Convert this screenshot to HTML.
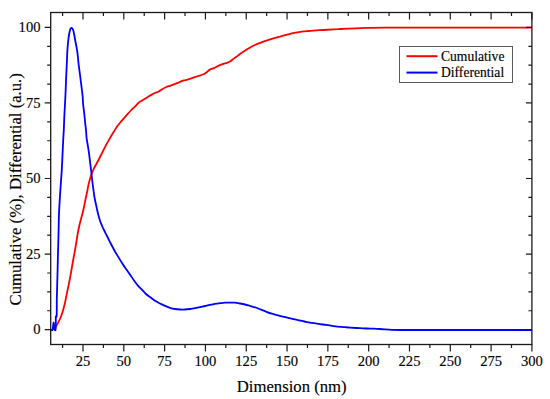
<!DOCTYPE html>
<html><head><meta charset="utf-8"><style>
html,body{margin:0;padding:0;background:#fff;width:550px;height:399px;overflow:hidden}
svg{display:block}
text{stroke:#000;stroke-width:0.15px;paint-order:stroke}
</style></head><body>
<svg width="550" height="399" viewBox="0 0 550 399"><path d="M54.60,329.40 C54.75,329.10 55.23,328.17 55.50,327.60 C55.77,327.03 55.78,326.78 56.20,326.00 C56.62,325.22 57.30,324.23 58.00,322.90 C58.70,321.57 59.67,319.75 60.40,318.00 C61.13,316.25 61.80,314.27 62.40,312.40 C63.00,310.53 63.55,308.45 64.00,306.80 C64.45,305.15 64.68,304.45 65.10,302.50 C65.52,300.55 65.92,298.00 66.50,295.10 C67.08,292.20 67.92,288.45 68.60,285.10 C69.28,281.75 70.07,277.85 70.60,275.00 C71.13,272.15 71.43,270.17 71.80,268.00 C72.17,265.83 72.43,264.08 72.80,262.00 C73.17,259.92 73.57,257.83 74.00,255.50 C74.43,253.17 74.90,250.92 75.40,248.00 C75.90,245.08 76.52,240.92 77.00,238.00 C77.48,235.08 77.87,232.75 78.30,230.50 C78.73,228.25 79.15,226.42 79.60,224.50 C80.05,222.58 80.50,220.92 81.00,219.00 C81.50,217.08 82.08,215.08 82.60,213.00 C83.12,210.92 83.57,209.00 84.10,206.50 C84.63,204.00 85.25,200.67 85.80,198.00 C86.35,195.33 86.98,192.58 87.40,190.50 C87.82,188.42 87.92,187.25 88.30,185.50 C88.68,183.75 89.17,181.87 89.70,180.00 C90.23,178.13 90.87,176.08 91.50,174.30 C92.13,172.52 92.83,170.77 93.50,169.30 C94.17,167.83 94.67,167.05 95.50,165.50 C96.33,163.95 97.42,162.07 98.50,160.00 C99.58,157.93 100.75,155.58 102.00,153.10 C103.25,150.62 104.67,147.62 106.00,145.10 C107.33,142.58 108.73,140.18 110.00,138.00 C111.27,135.82 112.50,133.78 113.60,132.00 C114.70,130.22 115.53,128.83 116.60,127.30 C117.67,125.77 118.80,124.30 120.00,122.80 C121.20,121.30 122.55,119.73 123.80,118.30 C125.05,116.87 126.25,115.58 127.50,114.20 C128.75,112.82 130.03,111.32 131.30,110.00 C132.57,108.68 133.85,107.55 135.10,106.30 C136.35,105.05 137.68,103.43 138.80,102.50 C139.92,101.57 140.97,101.22 141.80,100.70 C142.63,100.18 142.85,99.98 143.80,99.40 C144.75,98.82 146.25,97.95 147.50,97.20 C148.75,96.45 150.05,95.60 151.30,94.90 C152.55,94.20 153.75,93.57 155.00,93.00 C156.25,92.43 157.53,92.18 158.80,91.50 C160.07,90.82 161.35,89.65 162.60,88.90 C163.85,88.15 165.07,87.52 166.30,87.00 C167.53,86.48 168.97,86.17 170.00,85.80 C171.03,85.43 171.33,85.23 172.50,84.80 C173.67,84.37 175.25,83.88 177.00,83.20 C178.75,82.52 181.25,81.30 183.00,80.70 C184.75,80.10 185.87,80.07 187.50,79.60 C189.13,79.13 191.03,78.50 192.80,77.90 C194.57,77.30 196.22,76.65 198.10,76.00 C199.98,75.35 202.62,74.67 204.10,74.00 C205.58,73.33 206.12,72.68 207.00,72.00 C207.88,71.32 208.27,70.55 209.40,69.90 C210.53,69.25 212.33,68.77 213.80,68.10 C215.27,67.43 216.75,66.57 218.20,65.90 C219.65,65.23 221.05,64.62 222.50,64.10 C223.95,63.58 225.65,63.23 226.90,62.80 C228.15,62.37 228.82,62.23 230.00,61.50 C231.18,60.77 232.62,59.42 234.00,58.40 C235.38,57.38 237.30,56.15 238.30,55.40 C239.30,54.65 238.97,54.62 240.00,53.90 C241.03,53.18 242.87,52.13 244.50,51.10 C246.13,50.07 248.05,48.72 249.80,47.70 C251.55,46.68 253.25,45.82 255.00,45.00 C256.75,44.18 258.67,43.45 260.30,42.80 C261.93,42.15 263.17,41.67 264.80,41.10 C266.43,40.53 268.35,39.93 270.10,39.40 C271.85,38.87 273.65,38.37 275.30,37.90 C276.95,37.43 278.37,37.05 280.00,36.60 C281.63,36.15 283.28,35.70 285.10,35.20 C286.92,34.70 289.08,34.03 290.90,33.60 C292.72,33.17 294.18,32.92 296.00,32.60 C297.82,32.28 299.97,31.95 301.80,31.70 C303.63,31.45 305.18,31.28 307.00,31.10 C308.82,30.92 309.93,30.78 312.70,30.60 C315.47,30.42 319.97,30.22 323.60,30.00 C327.23,29.78 331.77,29.47 334.50,29.30 C337.23,29.13 337.63,29.12 340.00,29.00 C342.37,28.88 345.25,28.75 348.70,28.60 C352.15,28.45 356.82,28.23 360.70,28.10 C364.58,27.97 367.95,27.88 372.00,27.80 C376.05,27.72 380.33,27.64 385.00,27.60 C389.67,27.56 394.17,27.56 400.00,27.55 C405.83,27.54 411.67,27.55 420.00,27.55 C428.33,27.55 438.33,27.55 450.00,27.55 C461.67,27.55 476.35,27.55 490.00,27.55 C503.65,27.55 524.92,27.55 531.90,27.55" stroke="#ff0000" stroke-width="1.8" fill="none" stroke-linejoin="round"/>
<path d="M50.70,329.90 C51.02,329.90 52.13,331.13 52.60,329.90 C53.07,328.67 53.18,322.62 53.50,322.50 C53.82,322.38 54.15,328.03 54.50,329.20 C54.85,330.37 55.38,330.70 55.60,329.50 C55.82,328.30 55.75,324.17 55.80,322.00 C55.85,319.83 55.75,317.58 55.90,316.50 C56.05,315.42 56.55,318.25 56.70,315.50 C56.85,312.75 56.72,305.08 56.80,300.00 C56.88,294.92 57.07,290.00 57.20,285.00 C57.33,280.00 57.48,274.78 57.60,270.00 C57.72,265.22 57.75,262.13 57.90,256.30 C58.05,250.47 58.32,242.05 58.50,235.00 C58.68,227.95 58.72,221.07 59.00,214.00 C59.28,206.93 59.75,199.72 60.20,192.60 C60.65,185.48 61.32,177.57 61.70,171.30 C62.08,165.03 62.25,160.22 62.50,155.00 C62.75,149.78 62.98,144.17 63.20,140.00 C63.42,135.83 63.62,133.83 63.80,130.00 C63.98,126.17 64.10,121.33 64.30,117.00 C64.50,112.67 64.80,107.83 65.00,104.00 C65.20,100.17 65.35,97.33 65.50,94.00 C65.65,90.67 65.77,87.33 65.90,84.00 C66.03,80.67 66.15,77.33 66.30,74.00 C66.45,70.67 66.65,67.33 66.80,64.00 C66.95,60.67 67.07,56.75 67.20,54.00 C67.33,51.25 67.42,49.83 67.60,47.50 C67.78,45.17 68.07,42.08 68.30,40.00 C68.53,37.92 68.75,36.50 69.00,35.00 C69.25,33.50 69.53,32.07 69.80,31.00 C70.07,29.93 70.32,29.10 70.60,28.60 C70.88,28.10 71.20,28.00 71.50,28.00 C71.80,28.00 72.10,28.18 72.40,28.60 C72.70,29.02 73.03,29.68 73.30,30.50 C73.57,31.32 73.75,32.25 74.00,33.50 C74.25,34.75 74.53,36.50 74.80,38.00 C75.07,39.50 75.33,41.08 75.60,42.50 C75.87,43.92 76.13,45.08 76.40,46.50 C76.67,47.92 76.97,49.42 77.20,51.00 C77.43,52.58 77.57,53.83 77.80,56.00 C78.03,58.17 78.25,61.00 78.60,64.00 C78.95,67.00 79.52,71.00 79.90,74.00 C80.28,77.00 80.57,79.33 80.90,82.00 C81.23,84.67 81.62,87.67 81.90,90.00 C82.18,92.33 82.40,93.67 82.60,96.00 C82.80,98.33 82.82,101.00 83.10,104.00 C83.38,107.00 83.93,110.67 84.30,114.00 C84.67,117.33 85.02,121.33 85.30,124.00 C85.58,126.67 85.78,127.67 86.00,130.00 C86.22,132.33 86.28,135.33 86.60,138.00 C86.92,140.67 87.48,143.33 87.90,146.00 C88.32,148.67 88.72,151.17 89.10,154.00 C89.48,156.83 89.83,160.00 90.20,163.00 C90.57,166.00 90.93,168.83 91.30,172.00 C91.67,175.17 92.02,178.83 92.40,182.00 C92.78,185.17 93.23,188.33 93.60,191.00 C93.97,193.67 94.15,195.50 94.60,198.00 C95.05,200.50 95.72,203.33 96.30,206.00 C96.88,208.67 97.47,211.50 98.10,214.00 C98.73,216.50 99.43,219.00 100.10,221.00 C100.77,223.00 101.45,224.50 102.10,226.00 C102.75,227.50 103.10,228.17 104.00,230.00 C104.90,231.83 106.33,234.67 107.50,237.00 C108.67,239.33 109.75,241.58 111.00,244.00 C112.25,246.42 113.67,249.15 115.00,251.50 C116.33,253.85 117.67,255.93 119.00,258.10 C120.33,260.27 122.00,262.93 123.00,264.50 C124.00,266.07 123.83,265.83 125.00,267.50 C126.17,269.17 128.50,272.33 130.00,274.50 C131.50,276.67 132.67,278.65 134.00,280.50 C135.33,282.35 136.67,284.05 138.00,285.60 C139.33,287.15 140.67,288.40 142.00,289.80 C143.33,291.20 144.67,292.80 146.00,294.00 C147.33,295.20 148.50,295.87 150.00,297.00 C151.50,298.13 153.33,299.72 155.00,300.80 C156.67,301.88 158.33,302.67 160.00,303.50 C161.67,304.33 163.33,305.08 165.00,305.80 C166.67,306.52 168.33,307.27 170.00,307.80 C171.67,308.33 173.33,308.72 175.00,309.00 C176.67,309.28 178.33,309.42 180.00,309.50 C181.67,309.58 183.33,309.58 185.00,309.50 C186.67,309.42 188.33,309.22 190.00,309.00 C191.67,308.78 193.33,308.50 195.00,308.20 C196.67,307.90 198.33,307.57 200.00,307.20 C201.67,306.83 203.33,306.40 205.00,306.00 C206.67,305.60 208.33,305.17 210.00,304.80 C211.67,304.43 213.33,304.07 215.00,303.80 C216.67,303.53 218.33,303.38 220.00,303.20 C221.67,303.02 223.33,302.80 225.00,302.70 C226.67,302.60 228.33,302.60 230.00,302.60 C231.67,302.60 233.33,302.55 235.00,302.70 C236.67,302.85 238.33,303.20 240.00,303.50 C241.67,303.80 243.33,304.10 245.00,304.50 C246.67,304.90 248.25,305.40 250.00,305.90 C251.75,306.40 253.68,306.88 255.50,307.50 C257.32,308.12 259.08,308.88 260.90,309.60 C262.72,310.32 264.58,311.12 266.40,311.80 C268.22,312.48 269.98,313.13 271.80,313.70 C273.62,314.27 275.48,314.72 277.30,315.20 C279.12,315.68 280.88,316.15 282.70,316.60 C284.52,317.05 286.38,317.47 288.20,317.90 C290.02,318.33 291.78,318.78 293.60,319.20 C295.42,319.62 297.28,320.02 299.10,320.40 C300.92,320.78 302.68,321.13 304.50,321.50 C306.32,321.87 308.42,322.32 310.00,322.60 C311.58,322.88 311.83,322.88 314.00,323.20 C316.17,323.52 320.00,324.07 323.00,324.50 C326.00,324.93 329.00,325.40 332.00,325.80 C335.00,326.20 338.00,326.60 341.00,326.90 C344.00,327.20 346.83,327.38 350.00,327.60 C353.17,327.82 356.67,328.03 360.00,328.20 C363.33,328.37 366.67,328.47 370.00,328.60 C373.33,328.73 376.33,328.79 380.00,329.00 C383.67,329.21 388.00,329.68 392.00,329.85 C396.00,330.02 399.33,329.98 404.00,330.00 C408.67,330.02 412.33,330.00 420.00,330.00 C427.67,330.00 438.33,330.00 450.00,330.00 C461.67,330.00 476.35,330.00 490.00,330.00 C503.65,330.00 524.92,330.00 531.90,330.00" stroke="#0000ff" stroke-width="1.8" fill="none" stroke-linejoin="round"/>
<rect x="50.7" y="12.5" width="481.2" height="332.0" fill="none" stroke="#1a1a1a" stroke-width="1.3"/>
<path d="M62.59,344.5 v3.5 M62.59,12.5 v3.5 M83.00,344.5 v7 M83.00,12.5 v7 M103.41,344.5 v3.5 M103.41,12.5 v3.5 M123.81,344.5 v7 M123.81,12.5 v7 M144.22,344.5 v3.5 M144.22,12.5 v3.5 M164.62,344.5 v7 M164.62,12.5 v7 M185.03,344.5 v3.5 M185.03,12.5 v3.5 M205.43,344.5 v7 M205.43,12.5 v7 M225.84,344.5 v3.5 M225.84,12.5 v3.5 M246.24,344.5 v7 M246.24,12.5 v7 M266.64,344.5 v3.5 M266.64,12.5 v3.5 M287.05,344.5 v7 M287.05,12.5 v7 M307.46,344.5 v3.5 M307.46,12.5 v3.5 M327.86,344.5 v7 M327.86,12.5 v7 M348.26,344.5 v3.5 M348.26,12.5 v3.5 M368.67,344.5 v7 M368.67,12.5 v7 M389.07,344.5 v3.5 M389.07,12.5 v3.5 M409.48,344.5 v7 M409.48,12.5 v7 M429.88,344.5 v3.5 M429.88,12.5 v3.5 M450.29,344.5 v7 M450.29,12.5 v7 M470.69,344.5 v3.5 M470.69,12.5 v3.5 M491.10,344.5 v7 M491.10,12.5 v7 M511.50,344.5 v3.5 M511.50,12.5 v3.5 M531.91,344.5 v7 M531.91,12.5 v7 M50.7,329.65 h-6 M531.9,329.65 h-6 M50.7,310.76 h-3.5 M531.9,310.76 h-3.5 M50.7,291.87 h-3.5 M531.9,291.87 h-3.5 M50.7,272.98 h-3.5 M531.9,272.98 h-3.5 M50.7,254.09 h-6 M531.9,254.09 h-6 M50.7,235.20 h-3.5 M531.9,235.20 h-3.5 M50.7,216.31 h-3.5 M531.9,216.31 h-3.5 M50.7,197.42 h-3.5 M531.9,197.42 h-3.5 M50.7,178.52 h-6 M531.9,178.52 h-6 M50.7,159.63 h-3.5 M531.9,159.63 h-3.5 M50.7,140.74 h-3.5 M531.9,140.74 h-3.5 M50.7,121.85 h-3.5 M531.9,121.85 h-3.5 M50.7,102.96 h-6 M531.9,102.96 h-6 M50.7,84.07 h-3.5 M531.9,84.07 h-3.5 M50.7,65.18 h-3.5 M531.9,65.18 h-3.5 M50.7,46.29 h-3.5 M531.9,46.29 h-3.5 M50.7,27.40 h-6 M531.9,27.40 h-6" stroke="#1a1a1a" stroke-width="1.2" fill="none"/>
<g font-family='"Liberation Serif", serif' font-size="14.6" fill="#000"><text x="83.00" y="366" text-anchor="middle">25</text><text x="123.81" y="366" text-anchor="middle">50</text><text x="164.62" y="366" text-anchor="middle">75</text><text x="205.43" y="366" text-anchor="middle">100</text><text x="246.24" y="366" text-anchor="middle">125</text><text x="287.05" y="366" text-anchor="middle">150</text><text x="327.86" y="366" text-anchor="middle">175</text><text x="368.67" y="366" text-anchor="middle">200</text><text x="409.48" y="366" text-anchor="middle">225</text><text x="450.29" y="366" text-anchor="middle">250</text><text x="491.10" y="366" text-anchor="middle">275</text><text x="531.91" y="366" text-anchor="middle">300</text><text x="40.5" y="334.45" text-anchor="end">0</text><text x="40.5" y="258.89" text-anchor="end">25</text><text x="40.5" y="183.32" text-anchor="end">50</text><text x="40.5" y="107.76" text-anchor="end">75</text><text x="40.5" y="32.20" text-anchor="end">100</text></g>
<text x="291.7" y="392" text-anchor="middle" font-family='"Liberation Serif", serif' font-size="16.7" fill="#000">Dimension (nm)</text>
<text transform="translate(21.3,189.3) rotate(-90)" text-anchor="middle" font-family='"Liberation Serif", serif' font-size="16.7" fill="#000">Cumulative (%), Differential (a.u.)</text>
<rect x="399.5" y="46.5" width="113" height="36" fill="#fff" stroke="#5a5a5a" stroke-width="1"/>
<path d="M406.5,56.2 H437.5" stroke="#ff0000" stroke-width="2"/>
<path d="M406.5,72.6 H437.5" stroke="#0000ff" stroke-width="2"/>
<text x="441" y="60.5" font-family='"Liberation Serif", serif' font-size="13.6" fill="#000">Cumulative</text>
<text x="441" y="77.1" font-family='"Liberation Serif", serif' font-size="13.6" fill="#000">Differential</text></svg>
</body></html>
